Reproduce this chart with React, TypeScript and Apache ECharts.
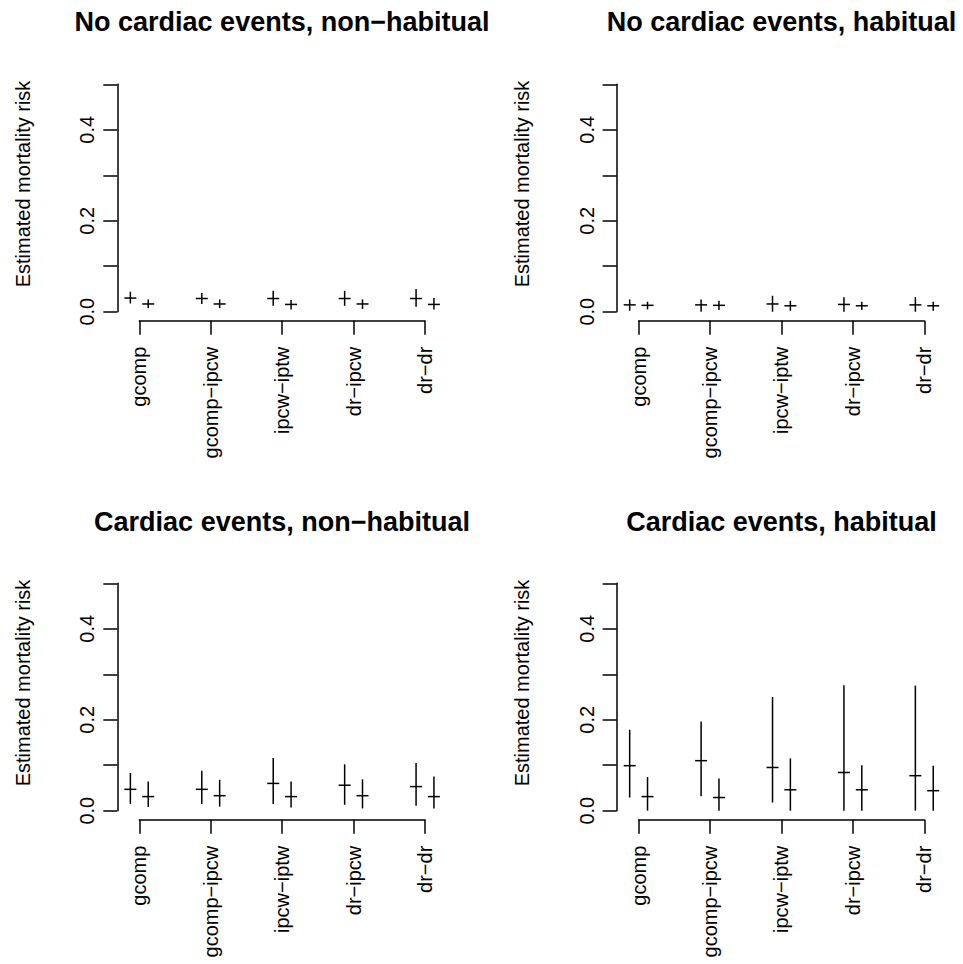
import React, { useEffect, useRef } from "react";
import * as echarts from "echarts";

const categories = ["gcomp", "gcomp\u2212ipcw", "ipcw\u2212iptw", "dr\u2212ipcw", "dr\u2212dr"];
const panelTitles = [
  "No cardiac events, non\u2212habitual",
  "No cardiac events, habitual",
  "Cardiac events, non\u2212habitual",
  "Cardiac events, habitual",
];
const yAxisTitle = "Estimated mortality risk";
const yTickLabels = ["0.0", "0.2", "0.4"];

// Panel 1: No cardiac events, non-habitual (A = left estimate, B = right estimate)
const p1EstA = [0.030, 0.029, 0.029, 0.029, 0.029];
const p1LoA = [0.018, 0.017, 0.013, 0.013, 0.011];
const p1HiA = [0.044, 0.041, 0.046, 0.046, 0.050];
const p1EstB = [0.017, 0.017, 0.016, 0.017, 0.016];
const p1LoB = [0.008, 0.008, 0.005, 0.006, 0.005];
const p1HiB = [0.027, 0.027, 0.026, 0.027, 0.030];

// Panel 2: No cardiac events, habitual
const p2EstA = [0.015, 0.015, 0.017, 0.016, 0.015];
const p2LoA = [0.002, 0.000, 0.000, 0.000, 0.000];
const p2HiA = [0.027, 0.027, 0.035, 0.032, 0.032];
const p2EstB = [0.014, 0.014, 0.013, 0.013, 0.013];
const p2LoB = [0.005, 0.004, 0.002, 0.004, 0.002];
const p2HiB = [0.022, 0.024, 0.024, 0.022, 0.022];

// Panel 3: Cardiac events, non-habitual
const p3EstA = [0.047, 0.047, 0.060, 0.056, 0.053];
const p3LoA = [0.015, 0.015, 0.015, 0.013, 0.011];
const p3HiA = [0.083, 0.088, 0.116, 0.102, 0.105];
const p3EstB = [0.031, 0.033, 0.031, 0.033, 0.031];
const p3LoB = [0.008, 0.009, 0.007, 0.005, 0.005];
const p3HiB = [0.064, 0.068, 0.064, 0.069, 0.075];

// Panel 4: Cardiac events, habitual
const p4EstA = [0.099, 0.110, 0.095, 0.084, 0.077];
const p4LoA = [0.029, 0.032, 0.018, 0.000, 0.000];
const p4HiA = [0.178, 0.196, 0.250, 0.276, 0.275];
const p4EstB = [0.031, 0.029, 0.046, 0.046, 0.044];
const p4LoB = [0.000, 0.000, 0.000, 0.000, 0.000];
const p4HiB = [0.074, 0.071, 0.115, 0.100, 0.099];

const panels = [
  [p1EstA, p1LoA, p1HiA, p1EstB, p1LoB, p1HiB],
  [p2EstA, p2LoA, p2HiA, p2EstB, p2LoB, p2HiB],
  [p3EstA, p3LoA, p3HiA, p3EstB, p3LoB, p3HiB],
  [p4EstA, p4LoA, p4HiA, p4EstB, p4LoB, p4HiB],
];

const SHIFT = 0.125;
const FONT = "Liberation Sans, Arial, Helvetica, sans-serif";
const LW = 1.5;

export default function App() {
  const ref = useRef<HTMLDivElement>(null);
  useEffect(() => {
    if (!ref.current) return;
    const chart = echarts.init(ref.current, undefined, { renderer: "svg" });

    const colX = [139.3, 638.6];
    const rowY = [84.3, 583.3];
    const gw = 285.7;
    const gh = 227.4;

    const grids: any[] = [];
    const xAxes: any[] = [];
    const yAxes: any[] = [];
    const series: any[] = [];
    const titles: any[] = [];
    const graphics: any[] = [];

    panels.forEach((p, i) => {
      const c = i % 2;
      const r = Math.floor(i / 2);
      grids.push({ left: colX[c], top: rowY[r], width: gw, height: gh, containLabel: false });
      xAxes.push({
        type: "value",
        gridIndex: i,
        min: 1,
        max: 5,
        interval: 1,
        position: "bottom",
        offset: 9,
        axisLine: { show: true, onZero: false, lineStyle: { color: "#000", width: LW } },
        axisTick: { show: true, length: 14, lineStyle: { color: "#000", width: LW } },
        splitLine: { show: false },
        axisLabel: {
          rotate: 90,
          margin: 26,
          fontSize: 20,
          color: "#000",
          fontFamily: FONT,
          formatter: (v: number) => categories[Math.round(v) - 1] || "",
        },
      });
      yAxes.push({
        type: "value",
        gridIndex: i,
        min: 0,
        max: 0.5,
        interval: 0.1,
        position: "left",
        offset: 22,
        axisLine: { show: true, onZero: false, lineStyle: { color: "#000", width: LW } },
        axisTick: { show: true, length: 14, lineStyle: { color: "#000", width: LW } },
        splitLine: { show: false },
        axisLabel: {
          rotate: 90,
          margin: 20,
          fontSize: 20,
          color: "#000",
          fontFamily: FONT,
          formatter: (v: number) => {
            const s = v.toFixed(1);
            return yTickLabels.indexOf(s) >= 0 ? s : "";
          },
        },
      });
      const [eA, lA, hA, eB, lB, hB] = p;
      const data: number[][] = [];
      categories.forEach((_, k) => {
        data.push([k + 1 - SHIFT, eA[k], lA[k], hA[k]]);
        data.push([k + 1 + SHIFT, eB[k], lB[k], hB[k]]);
      });
      series.push({
        type: "custom",
        xAxisIndex: i,
        yAxisIndex: i,
        clip: false,
        encode: { x: 0, y: [1, 2, 3] },
        data,
        renderItem: (params: any, api: any) => {
          const x = api.value(0);
          const pe = api.coord([x, api.value(1)]);
          const pl = api.coord([x, api.value(2)]);
          const ph = api.coord([x, api.value(3)]);
          const style = { stroke: "#000", lineWidth: LW, fill: "none" };
          return {
            type: "group",
            children: [
              { type: "line", shape: { x1: pl[0], y1: pl[1], x2: ph[0], y2: ph[1] }, style },
              { type: "line", shape: { x1: pe[0] - 6, y1: pe[1], x2: pe[0] + 6, y2: pe[1] }, style },
            ],
          };
        },
      });
      titles.push({
        text: panelTitles[i],
        left: c === 0 ? 282 : 781.5,
        top: 22 + r * 500 - 13.5,
        textAlign: "center",
        padding: 0,
        textStyle: { fontSize: 27, fontWeight: "bold", color: "#000", fontFamily: FONT, lineHeight: 27 },
      });
      graphics.push({
        type: "text",
        x: 22.5 + c * 499.3,
        y: 184 + r * 499,
        rotation: Math.PI / 2,
        style: {
          text: yAxisTitle,
          fontSize: 20,
          fontFamily: FONT,
          fill: "#000",
          align: "center",
          verticalAlign: "middle",
        },
      });
    });

    chart.setOption({
      animation: false,
      backgroundColor: "#fff",
      title: titles,
      grid: grids,
      xAxis: xAxes,
      yAxis: yAxes,
      series,
      graphic: graphics,
    });
    return () => chart.dispose();
  }, []);
  return (
    <div
      ref={ref}
      style={{ position: "absolute", left: 0, top: 0, width: 963, height: 964 }}
    />
  );
}
